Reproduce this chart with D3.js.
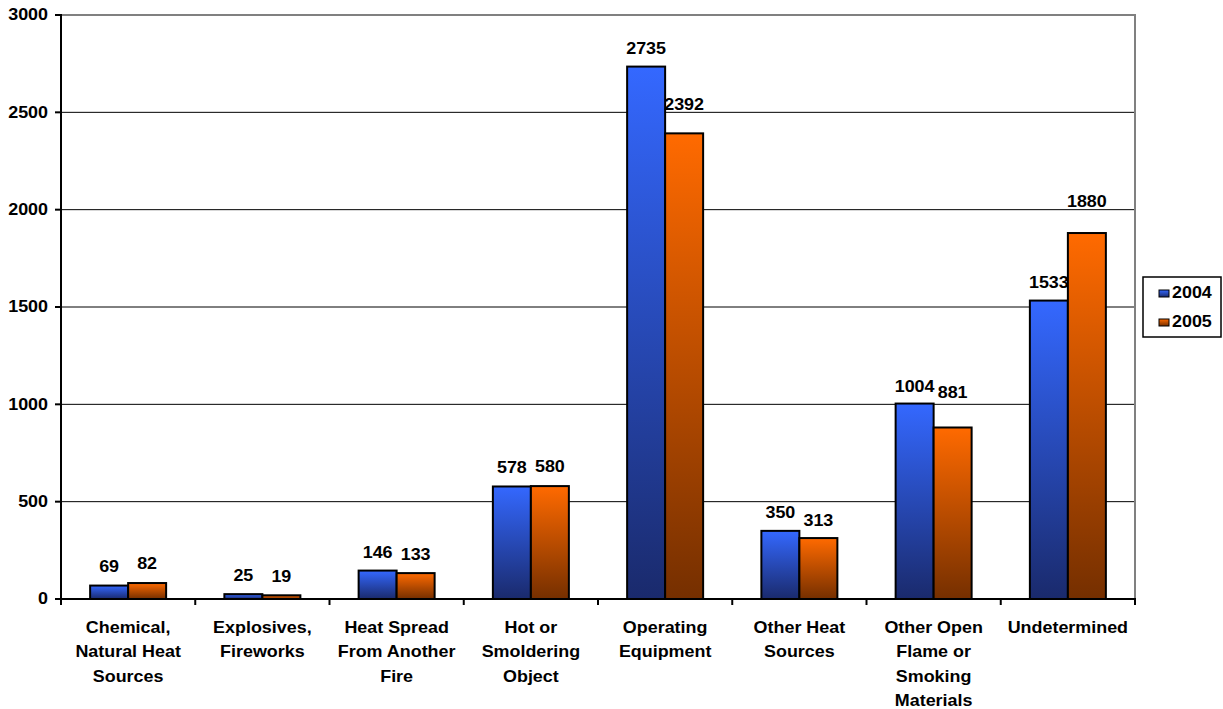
<!DOCTYPE html>
<html><head><meta charset="utf-8">
<script src="https://cdn.jsdelivr.net/npm/d3@7"></script>
<style>body{margin:0;background:#fff}svg{display:block}text{font-family:"Liberation Sans",Arial,sans-serif;font-weight:bold;font-size:16px;fill:#000}</style>
</head><body><svg id="c" width="1223" height="709"></svg>
<script>
const categories = [["Chemical,","Natural Heat","Sources"],["Explosives,","Fireworks"],["Heat Spread","From Another","Fire"],["Hot or","Smoldering","Object"],["Operating","Equipment"],["Other Heat","Sources"],["Other Open","Flame or","Smoking","Materials"],["Undetermined"]];
const seriesNames = ["2004","2005"];
const values2004 = [69,25,146,578,2735,350,1004,1533];
const values2005 = [82,19,133,580,2392,313,881,1880];
const yTicks = [0,500,1000,1500,2000,2500,3000];

// layout: pixel gap between bar top and its value label baseline (labels moved in the original)
const labelGap = [[14,13,13,13,13,13,12,13],[14,13,13,14,23,12,29,26]];

const SX = 1.12;
const svg = d3.select("#c");
const m = {l:61, r:1135, t:15, b:599};
const x = d3.scaleBand().domain(d3.range(categories.length)).range([m.l, m.r]);
const xs = d3.scaleBand().domain([0,1]).range([0, 76]);
const y = d3.scaleLinear().domain([0,3000]).range([m.b, m.t]);

const defs = svg.append("defs");
const grads = [["g0","#3468ff","#1a2a6c"],["g1","#ff6a00","#752f00"]];
grads.forEach(([id,c1,c2])=>{
  const g = defs.append("linearGradient").attr("id",id).attr("x1",0).attr("y1",0).attr("x2",0).attr("y2",1);
  g.append("stop").attr("offset","0%").attr("stop-color",c1);
  g.append("stop").attr("offset","100%").attr("stop-color",c2);
});

// gridlines
svg.append("g").selectAll("line").data(yTicks.filter(d=>d>0 && d<3000)).join("line")
  .attr("x1",m.l).attr("x2",m.r).attr("y1",d=>y(d)).attr("y2",d=>y(d)).attr("stroke","#000").attr("stroke-width",1);
// plot border top/right gray
svg.append("path").attr("d",`M${m.l},${y(3000)}H${m.r}V${m.b}`).attr("fill","none").attr("stroke","#808080").attr("stroke-width",2);

// bars
const series = [values2004, values2005];
series.forEach((vals,si)=>{
  const g = svg.append("g");
  g.selectAll("rect").data(vals).join("rect")
    .attr("x",(d,i)=>x(i)+(x.bandwidth()-76)/2+xs(si))
    .attr("width",xs.bandwidth())
    .attr("y",d=>y(d)).attr("height",d=>y(0)-y(d))
    .attr("fill",`url(#g${si})`).attr("stroke","#000").attr("stroke-width",2);
  g.selectAll("text").data(vals).join("text")
    .attr("text-anchor","middle")
    .attr("transform",(d,i)=>`translate(${x(i)+(x.bandwidth()-76)/2+xs(si)+xs.bandwidth()/2},${y(d)-labelGap[si][i]}) scale(${SX},1)`)
    .text(d=>d);
});

// axes
svg.append("line").attr("x1",m.l).attr("x2",m.l).attr("y1",m.t-1).attr("y2",m.b).attr("stroke","#000").attr("stroke-width",2);
svg.append("line").attr("x1",m.l-5).attr("x2",m.r+1).attr("y1",m.b).attr("y2",m.b).attr("stroke","#000").attr("stroke-width",2);
svg.append("g").selectAll("line").data(yTicks).join("line")
  .attr("x1",m.l-6).attr("x2",m.l).attr("y1",d=>y(d)).attr("y2",d=>y(d)).attr("stroke","#000").attr("stroke-width",2);
svg.append("g").selectAll("text").data(yTicks).join("text")
  .attr("text-anchor","end").attr("dominant-baseline","central")
  .attr("transform",d=>`translate(48,${y(d)}) scale(${SX},1)`).text(d=>d);
const bounds = d3.range(categories.length+1).map(i=> i<categories.length ? x(i) : m.r);
svg.append("g").selectAll("line").data(bounds).join("line")
  .attr("x1",d=>d).attr("x2",d=>d).attr("y1",m.b).attr("y2",m.b+6).attr("stroke","#000").attr("stroke-width",2);
// category labels
const cl = svg.append("g");
categories.forEach((lines,i)=>{
  const t = cl.append("text").attr("text-anchor","middle")
    .attr("transform",`translate(${x(i)+x.bandwidth()/2},633) scale(${SX},1)`);
  lines.forEach((ln,j)=>t.append("tspan").attr("x",0).attr("y",j*24.3).text(ln));
});

// legend
const lg = svg.append("g");
lg.append("rect").attr("x",1143).attr("y",277).attr("width",78).attr("height",60).attr("fill","#fff").attr("stroke","#000").attr("stroke-width",1.5);
seriesNames.forEach((s,i)=>{
  lg.append("rect").attr("x",1159).attr("y",290+i*29).attr("width",10).attr("height",7)
    .attr("fill",`url(#g${i})`).attr("stroke","#000").attr("stroke-width",1);
  lg.append("text").attr("transform",`translate(1172,${298+i*29}) scale(${SX},1)`).text(s);
});
</script></body></html>
